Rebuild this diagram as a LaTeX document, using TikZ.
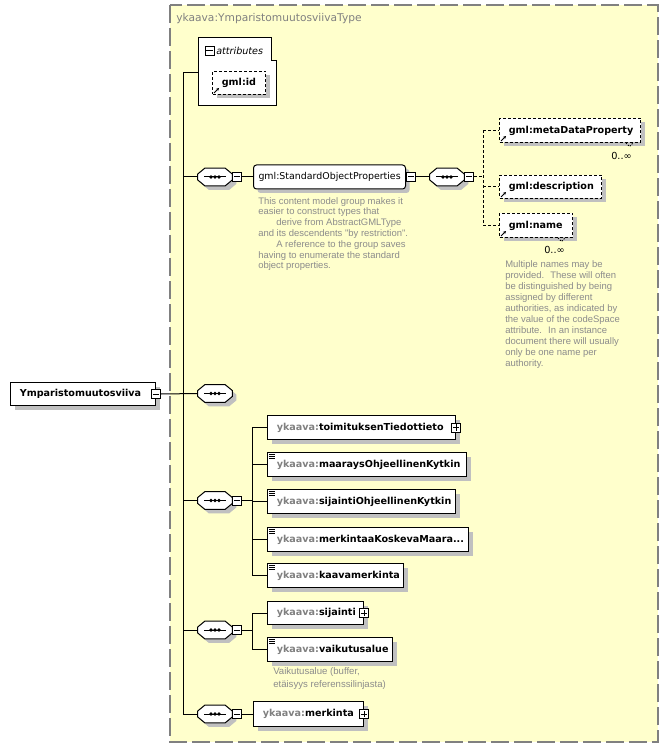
\documentclass[tikz,border=0pt]{standalone}
\usepackage{fontspec}
\newfontfamily\elf{DejaVu Sans}
\newfontfamily\dsf{Liberation Sans}
\usetikzlibrary{shadows,arrows.meta}
\definecolor{bgy}{RGB}{255,255,204}
\definecolor{bord}{RGB}{128,128,128}
\definecolor{shgray}{RGB}{192,192,192}
\definecolor{pref}{RGB}{128,128,128}
\definecolor{dgray}{RGB}{140,140,140}
\newcommand\ykpre{\textcolor{pref}{ykaava:}}
% octagon outline of a sequence compositor, #1 node name, #2 offset (px)
\newcommand\seqoct[2]{([shift={(#2,#2-3)}]#1.west) -- ([shift={(#2+7,#2)}]#1.north west) -- ([shift={(#2-7,#2)}]#1.north east) -- ([shift={(#2,#2-3)}]#1.east) -- ([shift={(#2,#2+3)}]#1.east) -- ([shift={(#2-7,#2)}]#1.south east) -- ([shift={(#2+7,#2)}]#1.south west) -- ([shift={(#2,#2+3)}]#1.west) -- cycle}
\newcommand\seqdraw[1]{%
 \fill[shgray] \seqoct{#1}{4};
 \filldraw[fill=white, line width=0.75pt] \seqoct{#1}{0};
 \draw[line width=0.75pt] ([xshift=-8.25pt]#1.center) -- ([xshift=8.25pt]#1.center);
 \fill ([xshift=-3pt]#1.center) circle[radius=1.4pt] (#1.center) circle[radius=1.4pt] ([xshift=3pt]#1.center) circle[radius=1.4pt];
}
\tikzset{
 conn/.style={line width=0.75pt},
 optconn/.style={line width=0.75pt, dash pattern=on 2.25pt off 1.5pt},
 shadowed/.style={drop shadow={opacity=1, fill=shgray, shadow xshift=3pt, shadow yshift=-3pt}},
 elbox/.style={rectangle, draw, fill=white, line width=0.75pt, anchor=north west, inner xsep=7pt, inner ysep=0pt, minimum height=18pt, font=\elf\bfseries\fontsize{7.2}{8.6}\selectfont, shadowed},
 optbox/.style={elbox, dash pattern=on 2.25pt off 1.5pt},
 pmbox/.style={rectangle, draw, fill=white, line width=0.75pt, minimum size=6.75pt, inner sep=0pt,
   path picture={\draw[line width=0.75pt] ([xshift=-2.3pt]path picture bounding box.center) -- ([xshift=2.3pt]path picture bounding box.center);}},
 plusbox/.style={pmbox,
   path picture={\draw[line width=0.75pt] ([xshift=-2.3pt]path picture bounding box.center) -- ([xshift=2.3pt]path picture bounding box.center) ([yshift=-2.3pt]path picture bounding box.center) -- ([yshift=2.3pt]path picture bounding box.center);}},
 seqbox/.style={rectangle, draw=none, minimum width=25.5pt, minimum height=12.75pt, inner sep=0pt},
 desc/.style={anchor=north west, align=left, inner sep=0pt, text=dgray, font=\dsf\fontsize{7.1}{8.1}\selectfont},
 mult/.style={anchor=east, inner sep=0pt, font=\elf\fontsize{7.3}{8}\selectfont},
 simpleicon/.style={line width=0.6pt},
 refarrow/.style={line width=0.6pt, -{Stealth[length=2.2pt,width=2.2pt]}},
 multnotch/.style={line width=0.6pt, dash pattern=on 1pt off 1pt},
}
\begin{document}
\begin{tikzpicture}[x=0.75pt,y=-0.75pt]
\useasboundingbox (0,0) rectangle (669,748);
% container
\fill[bgy] (170,5) rectangle (658,742);
\draw[bord, line width=1.1pt, dash pattern=on 13.5pt off 3.75pt] (170,5) rectangle (658,742);
\node[anchor=west, inner sep=0pt, text=bord, font=\elf\fontsize{8}{10}\selectfont] (title) at (176,19) {ykaava:YmparistomuutosviivaType};

% attributes
\draw[line width=0.75pt, fill=white] (198,38) -- (271,38) -- (271,61) -- (276,61) -- (276,106) -- (198,106) -- cycle;
\node[pmbox] (attpm) at (209.5,51) {};
\node[anchor=west, inner sep=0pt, font=\elf\itshape\fontsize{7.2}{8.6}\selectfont] (attl) at (216,51) {attributes};
\node[optbox, minimum height=17.25pt] (gid) at (212,71) {\makebox[25.75pt][l]{gml:id}};
\draw[refarrow] ([shift={(2,-2)}]gid.south west) -- ([shift={(7,-7)}]gid.south west);

% trunk
\coordinate (tTop) at (183,73);
\coordinate (tBot) at (183,714);
\coordinate (attL) at (198,73);
\draw[conn] (tTop) -- (tBot);
\draw[conn] (tTop) -- (attL);

% main element
\node[elbox, minimum height=17.25pt] (main) at (10,382) {\makebox[94.75pt][l]{Ymparistomuutosviiva}};
\node[pmbox] (mainpm) at (main.east) {};
\node[seqbox] (seq3) at (215,393.5) {};
\draw[conn] (mainpm.east) -- (seq3.west);
\seqdraw{seq3}

% sequence 1 : StandardObjectProperties
\node[seqbox] (seq1) at (215,177) {};
\draw[conn] (seq1.west -| tTop) -- (seq1.west);
\seqdraw{seq1}
\node[pmbox, anchor=west] (seq1pm) at (seq1.east) {};
\node[elbox, rounded corners=2.25pt, anchor=west, inner xsep=3.75pt, font=\elf\fontsize{7.07}{8.5}\selectfont] (sop) at (253,177) {\makebox[106.5pt][l]{gml:StandardObjectProperties}};
\node[pmbox, anchor=west] (soppm) at (sop.east) {};
\draw[conn] (seq1pm.east) -- (sop.west);
\node[desc] (sopdesc) at (258,197) {This content model group makes it\\easier to construct types that\\\hspace*{13.5pt}derive from AbstractGMLType\\and its descendents "by restriction".\\\hspace*{13.5pt}A reference to the group saves\\having to enumerate the standard\\object properties.};

\node[seqbox] (seq2) at (447,177) {};
\draw[conn] (soppm.east) -- (seq2.west);
\seqdraw{seq2}
\node[pmbox, anchor=west] (seq2pm) at (seq2.east) {};
\coordinate (b2) at (483,177);
\node[optbox] (md) at (499,118) {\makebox[91.75pt][l]{gml:metaDataProperty}};
\node[optbox, minimum height=17.25pt] (gdesc) at (499,175) {\makebox[62.5pt][l]{gml:description}};
\node[optbox] (gname) at (499,213) {\makebox[40.75pt][l]{gml:name}};
\draw[optconn] (seq2pm.east) -- (b2);
\draw[optconn] (b2 |- md.west) -- (b2 |- gname.west);
\draw[optconn] (b2 |- md.west) -- (md.west);
\draw[optconn] (b2 |- gdesc.west) -- (gdesc.west);
\draw[optconn] (b2 |- gname.west) -- (gname.west);
\foreach \n in {md,gdesc,gname}
  \draw[refarrow] ([shift={(2,-2)}]\n.south west) -- ([shift={(7,-7)}]\n.south west);
\foreach \n in {md,gname}
  \draw[multnotch] ([shift={(-15,0)}]\n.south east) -- ++(3.5,3.5) -- ++(3.5,-3.5);
\node[mult] (mdmult) at (632,156) {0..∞};
\node[mult] (gnamemult) at (565,250) {0..∞};
\node[desc, font=\dsf\fontsize{7.1}{8.27}\selectfont] (namedesc) at (505,260) {Multiple names may be\\provided.~ These will often\\be distinguished by being\\assigned by different\\authorities, as indicated by\\the value of the codeSpace\\attribute.~ In an instance\\document there will usually\\only be one name per\\authority.};

% sequence 4
\node[seqbox] (seq4) at (215,500.5) {};
\draw[conn] (seq4.west -| tTop) -- (seq4.west);
\seqdraw{seq4}
\node[pmbox, anchor=west] (seq4pm) at (seq4.east) {};
\coordinate (b4) at (252,500.5);
\draw[conn] (seq4pm.east) -- (b4);
\node[elbox] (toim) at (267,415) {\makebox[127pt][l]{\ykpre toimituksenTiedottieto}};
\node[plusbox] (toimpm) at (toim.east) {};
\node[elbox] (maar) at (267,452) {\makebox[135.25pt][l]{\ykpre maaraysOhjeellinenKytkin}};
\node[elbox] (sij) at (267,489) {\makebox[127pt][l]{\ykpre sijaintiOhjeellinenKytkin}};
\node[elbox] (merk) at (267,527) {\makebox[136.75pt][l]{\ykpre merkintaaKoskevaMaara...}};
\node[elbox] (kaava) at (267,563) {\makebox[88pt][l]{\ykpre kaavamerkinta}};
\draw[conn] (b4 |- toim.west) -- (b4 |- kaava.west);
\foreach \n in {toim,maar,sij,merk,kaava}
  \draw[conn] (b4 |- \n.west) -- (\n.west);

% sequence 5
\node[seqbox] (seq5) at (215,630) {};
\draw[conn] (seq5.west -| tTop) -- (seq5.west);
\seqdraw{seq5}
\node[pmbox, anchor=west] (seq5pm) at (seq5.east) {};
\coordinate (b5) at (252,630);
\draw[conn] (seq5pm.east) -- (b5);
\node[elbox, minimum height=17.25pt] (sijn) at (267,601) {\makebox[58pt][l]{\ykpre sijainti}};
\node[plusbox] (sijnpm) at (sijn.east) {};
\node[elbox] (vaik) at (267,637) {\makebox[79.75pt][l]{\ykpre vaikutusalue}};
\draw[conn] (b5 |- sijn.west) -- (b5 |- vaik.west);
\foreach \n in {sijn,vaik}
  \draw[conn] (b5 |- \n.west) -- (\n.west);
\node[desc, font=\dsf\fontsize{7.2}{10}\selectfont] (vaikdesc) at (273,667) {Vaikutusalue (buffer,\\etäisyys referenssilinjasta)};

% simple content icons
\foreach \n in {maar,sij,merk,kaava,vaik}
  \draw[simpleicon] ([shift={(2,2)}]\n.north west) -- ++(6,0)
                    ([shift={(2,4)}]\n.north west) -- ++(6,0)
                    ([shift={(2,6)}]\n.north west) -- ++(6,0);

% sequence 6
\node[seqbox] (seq6) at (215,714) {};
\draw[conn] (seq6.west -| tTop) -- (seq6.west);
\seqdraw{seq6}
\node[pmbox, anchor=west] (seq6pm) at (seq6.east) {};
\node[elbox, anchor=west, minimum height=18.75pt] (merkinta) at (253,714) {\makebox[68.5pt][l]{\ykpre merkinta}};
\node[plusbox] (merkintapm) at (merkinta.east) {};
\draw[conn] (seq6pm.east) -- (merkinta.west);
\end{tikzpicture}
\end{document}
